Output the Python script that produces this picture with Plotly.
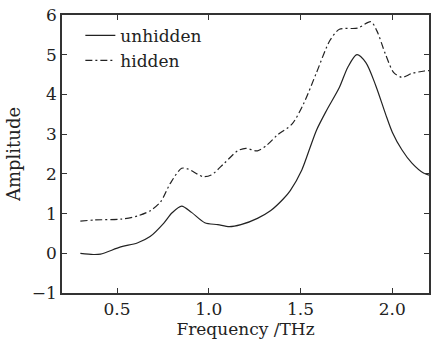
import plotly.graph_objects as go

freq_unhidden = [0.30, 0.37, 0.41, 0.52, 0.61, 0.68, 0.755, 0.80, 0.852, 0.906, 0.978, 1.049, 1.112, 1.175, 1.265, 1.336, 1.408, 1.444, 1.507, 1.551, 1.587, 1.641, 1.712, 1.757, 1.807, 1.856, 1.91, 1.963, 2.00, 2.053, 2.107, 2.17, 2.20]
amp_unhidden = [0.00, -0.03, -0.02, 0.16, 0.26, 0.42, 0.76, 1.02, 1.19, 1.03, 0.77, 0.72, 0.67, 0.72, 0.88, 1.07, 1.38, 1.58, 2.10, 2.65, 3.10, 3.59, 4.18, 4.68, 5.00, 4.80, 4.22, 3.51, 3.05, 2.60, 2.27, 2.02, 1.97]

freq_hidden = [0.30, 0.379, 0.523, 0.612, 0.684, 0.738, 0.79, 0.852, 0.888, 0.969, 1.013, 1.085, 1.157, 1.202, 1.265, 1.318, 1.372, 1.453, 1.516, 1.587, 1.659, 1.712, 1.811, 1.883, 1.916, 1.963, 2.008, 2.053, 2.107, 2.175, 2.20]
amp_hidden = [0.81, 0.84, 0.86, 0.94, 1.08, 1.30, 1.76, 2.14, 2.12, 1.93, 1.97, 2.27, 2.58, 2.64, 2.58, 2.73, 2.97, 3.25, 3.76, 4.55, 5.35, 5.64, 5.67, 5.83, 5.60, 5.01, 4.55, 4.43, 4.53, 4.59, 4.60]

x_ticks = [0.5, 1.0, 1.5, 2.0]
x_tick_labels = ["0.5", "1.0", "1.5", "2.0"]
y_ticks = [-1, 0, 1, 2, 3, 4, 5, 6]

FONT = "DejaVu Serif"
INK = "#222222"

fig = go.Figure()
fig.add_trace(go.Scatter(x=freq_unhidden, y=amp_unhidden, mode="lines", name="unhidden",
                         line=dict(color=INK, width=1.2, shape="spline", smoothing=0.8)))
fig.add_trace(go.Scatter(x=freq_hidden, y=amp_hidden, mode="lines", name="hidden",
                         line=dict(color=INK, width=1.2, dash="7px,3px,2px,3px", shape="spline", smoothing=0.8)))

axis_common = dict(showline=True, linecolor="#333333", linewidth=1.5, mirror="ticks",
                   ticks="inside", ticklen=5, tickcolor="#333333", tickwidth=1,
                   showgrid=False, zeroline=False,
                   tickfont=dict(family=FONT, size=17, color=INK))

fig.update_layout(
    width=432, height=339,
    margin=dict(l=62, r=1, t=15, b=46),
    paper_bgcolor="white", plot_bgcolor="white",
    font=dict(family=FONT, size=17, color=INK),
    showlegend=True,
    legend=dict(x=0.05, y=0.99, xanchor="left", yanchor="top", bgcolor="rgba(0,0,0,0)",
                font=dict(family=FONT, size=17, color=INK), tracegroupgap=0,
                itemwidth=30),
    xaxis=dict(range=[0.2, 2.2], tickvals=x_ticks, ticktext=x_tick_labels,
               title=dict(text="Frequency /THz", standoff=2, font=dict(family=FONT, size=17, color=INK)),
               **axis_common),
    yaxis=dict(range=[-1, 6], tickvals=y_ticks,
               title=dict(text="Amplitude", standoff=6, font=dict(family=FONT, size=18, color=INK)),
               **axis_common),
)

fig.write_html("out.html")
